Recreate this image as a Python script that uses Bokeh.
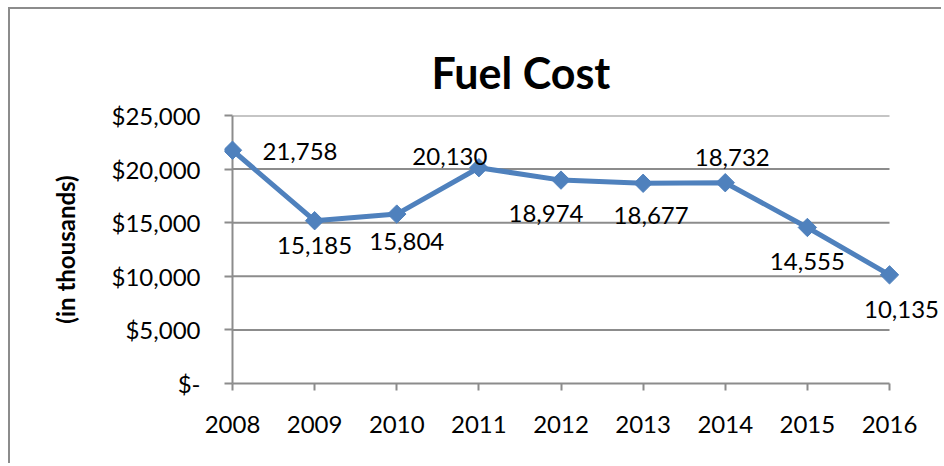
from bokeh.plotting import figure
from bokeh.models import ColumnDataSource, LabelSet, Range1d, FixedTicker
from bokeh.core.properties import value
from bokeh.embed import file_html
from bokeh.resources import INLINE
import math

# ---- data ----
years = [2008, 2009, 2010, 2011, 2012, 2013, 2014, 2015, 2016]
fuel_cost = [21758, 15185, 15804, 20130, 18974, 18677, 18732, 14555, 10135]
value_labels = ["21,758", "15,185", "15,804", "20,130", "18,974", "18,677", "18,732", "14,555", "10,135"]
y_ticks = [0, 5000, 10000, 15000, 20000, 25000]
y_tick_labels = ["$-", "$5,000", "$10,000", "$15,000", "$20,000", "$25,000"]
title_text = "Fuel Cost"
y_title = "(in thousands)"

FONT = "Lato"
BLUE = "#4F81BD"
GRAY = "#8c8c8c"

p = figure(width=933, height=456, output_backend="svg", toolbar_location=None,
           x_range=Range1d(years[0] - 0.0974, years[-1] + 0.633),
           y_range=Range1d(y_ticks[0], y_ticks[-1]),
           min_border_left=214, min_border_right=2, min_border_top=106, min_border_bottom=82)
p.styles = {"margin-left": "8px", "margin-top": "7px",
            "border-left": "2px solid #8c8c8c", "border-top": "2px solid #8c8c8c"}
p.outline_line_color = None
p.background_fill_color = "white"
p.border_fill_color = "white"

# title
p.title.text = title_text
p.title.text_font = FONT
p.title.text_font_style = "bold"
p.title.text_font_size = "43px"
p.title.text_color = "black"
p.title.align = "left"
p.title.offset = 207
p.title.standoff = 35

# grid: custom segments spanning the category extent
p.xgrid.visible = False
p.ygrid.visible = False
grid_vals = [v for v in y_ticks if v > 0]
p.segment(x0=[years[0]] * len(grid_vals), x1=[years[-1]] * len(grid_vals),
          y0=grid_vals, y1=grid_vals, line_color=GRAY, line_width=2, level="underlay")
# vertical axis line at the first category
p.segment(x0=[years[0]], x1=[years[0]], y0=[y_ticks[0]], y1=[y_ticks[-1]],
          line_color=GRAY, line_width=2, level="underlay")

# x axis
xa = p.xaxis[0]
xa.ticker = FixedTicker(ticks=years)
xa.bounds = (years[0], years[-1])
xa.axis_line_color = GRAY
xa.axis_line_width = 2
xa.major_tick_line_color = GRAY
xa.major_tick_line_width = 2
xa.major_tick_in = 0
xa.major_tick_out = 7
xa.minor_tick_line_color = None
xa.major_label_text_font = FONT
xa.major_label_text_font_size = "24px"
xa.major_label_text_color = "black"
xa.major_label_standoff = 25

# y axis (ticks point inward to the category axis line)
ya = p.yaxis[0]
ya.ticker = FixedTicker(ticks=y_ticks)
ya.major_label_overrides = {v: s for v, s in zip(y_ticks, y_tick_labels)}
ya.axis_line_color = None
ya.major_tick_line_color = GRAY
ya.major_tick_line_width = 2
ya.major_tick_in = 8
ya.major_tick_out = 0
ya.minor_tick_line_color = None
ya.major_label_text_font = FONT
ya.major_label_text_font_size = "24px"
ya.major_label_text_color = "black"
ya.major_label_standoff = 24
ya.axis_label = y_title
ya.axis_label_text_font = FONT
ya.axis_label_text_font_style = "bold"
ya.axis_label_text_font_size = "24px"
ya.axis_label_text_color = "black"
ya.axis_label_standoff = 29

# line + diamonds
src = ColumnDataSource(dict(x=years, y=fuel_cost, label=value_labels,
                            dx=[30, 0, 10, -29, -15, 8, 7, 0, 12],
                            dy=[-1, -25, -27, 11, -33, -32, 25, -34, -35],
                            align=["left", "center", "center", "center", "center",
                                   "center", "center", "center", "center"]))
p.line("x", "y", source=src, line_color=BLUE, line_width=5)
p.scatter("x", "y", source=src, marker="square", size=13, angle=math.pi / 4,
          fill_color=BLUE, line_color=BLUE)

labels = LabelSet(x="x", y="y", text="label", source=src, x_offset="dx", y_offset="dy",
                  text_align="align", text_baseline="middle",
                  text_font=value(FONT), text_font_size=value("24px"), text_color="black")
p.add_layout(labels)

open("out.html", "w").write(file_html(p, INLINE))
